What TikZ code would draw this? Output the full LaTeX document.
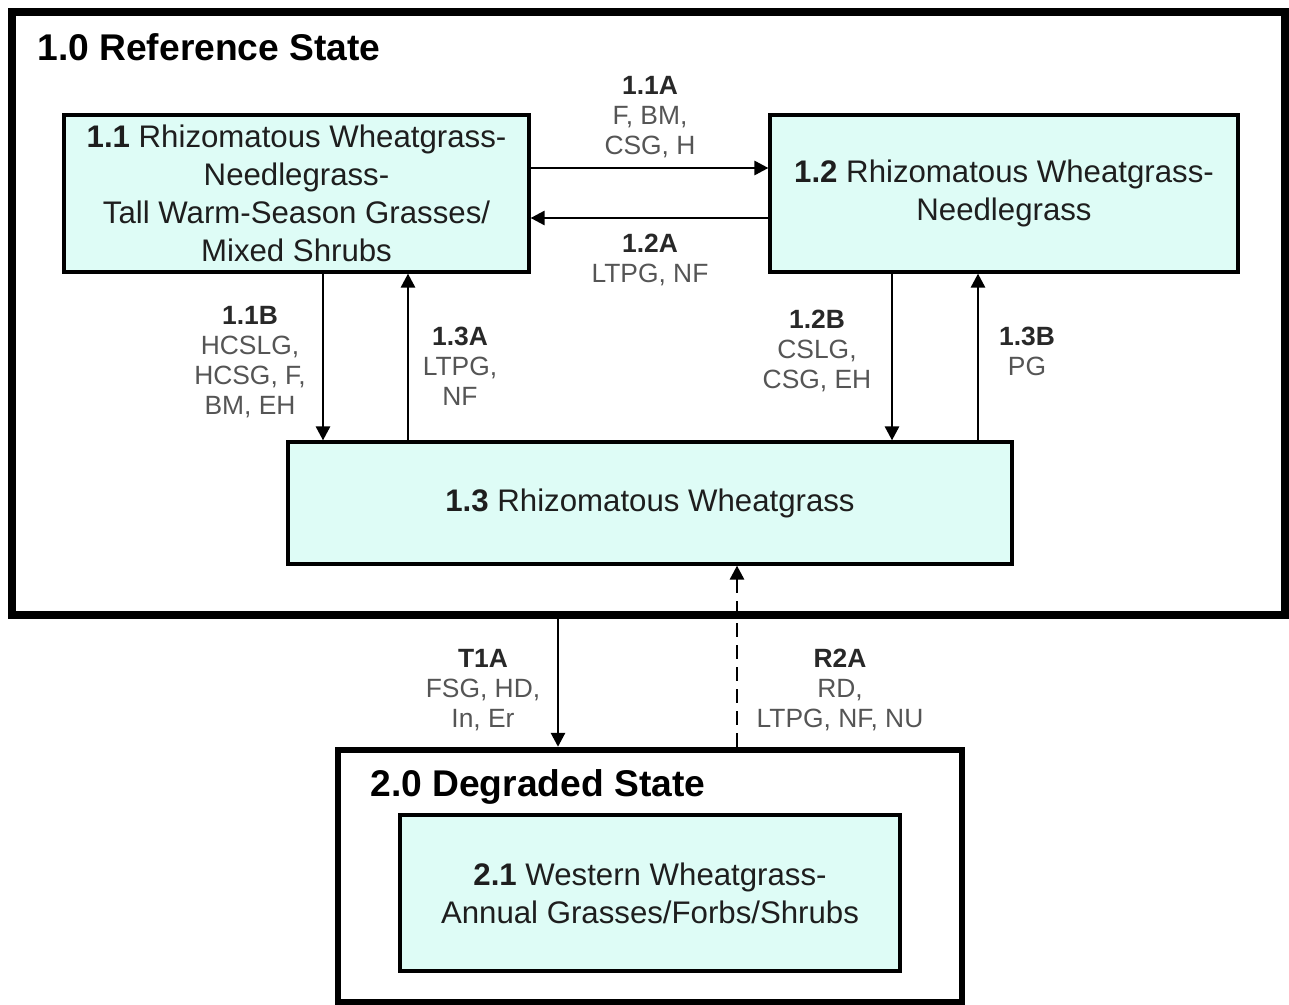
\documentclass[tikz,border=0pt]{standalone}
\usepackage{fontspec}
\setmainfont{Liberation Sans}
\usetikzlibrary{arrows.meta}
\definecolor{boxfill}{RGB}{222,252,246}
\definecolor{boxtext}{RGB}{30,30,30}
\definecolor{labtext}{RGB}{85,85,85}
\definecolor{labbold}{RGB}{40,40,40}
\tikzset{
  statebox/.style={draw=black, line width=4pt, fill=none, inner sep=0pt},
  phasebox/.style={draw=black, line width=1.6pt, fill=boxfill, inner sep=0pt, align=center,
    text=boxtext, font=\fontsize{15.6}{19}\selectfont},
  lab/.style={align=center, text=labtext, inner sep=0pt, font=\fontsize{13.2}{15}\selectfont},
  ttl/.style={anchor=west, inner sep=0pt, text=black, font=\fontsize{18.6}{21}\selectfont\bfseries},
  arr/.style={line width=1.4pt, -{Triangle[length=7pt,width=7pt]}},
}
\newcommand{\lb}[1]{\textcolor{labbold}{\textbf{#1}}}
\begin{document}
\begin{tikzpicture}[x=0.5pt,y=-0.5pt]
\useasboundingbox (0,0) rectangle (1289,1005);
\fill[white] (0,0) rectangle (1289,1005);
% state boxes
\node[statebox, minimum width=636.5pt, minimum height=301.5pt] (ref) at (648.5,313.5) {};
\node[statebox, line width=3.2pt, minimum width=312pt, minimum height=126pt] (deg) at (650,876) {};
\node[ttl] (reft) at (37,47) {1.0 Reference State};
\node[ttl] (degt) at (370,787) {2.0 Degraded State};
% phase boxes
\node[phasebox, minimum width=232.5pt, minimum height=78.5pt] (b11) at (296.5,193.5)
  {\textbf{1.1} Rhizomatous Wheatgrass-\\Needlegrass-\\Tall Warm-Season Grasses/\\Mixed Shrubs};
\node[phasebox, minimum width=234pt, minimum height=78.5pt] (b12) at (1004,193.5)
  {\textbf{1.2} Rhizomatous Wheatgrass-\\Needlegrass};
\node[phasebox, minimum width=362pt, minimum height=61pt] (b13) at (650,503)
  {\textbf{1.3} Rhizomatous Wheatgrass};
\node[phasebox, minimum width=250pt, minimum height=78pt] (b21) at (650,893)
  {\textbf{2.1} Western Wheatgrass-\\Annual Grasses/Forbs/Shrubs};
% arrows
\draw[arr] ([yshift=12.75pt]b11.east) -- ([yshift=12.75pt]b12.west);
\draw[arr] ([yshift=-12.25pt]b12.west) -- ([yshift=-12.25pt]b11.east);
\draw[arr] ([xshift=13.25pt]b11.south) -- ([xshift=13.25pt]b11.south |- b13.north);
\draw[arr] ([xshift=55.75pt]b11.south |- b13.north) -- ([xshift=55.75pt]b11.south);
\draw[arr] ([xshift=-56pt]b12.south) -- ([xshift=-56pt]b12.south |- b13.north);
\draw[arr] ([xshift=-13pt]b12.south |- b13.north) -- ([xshift=-13pt]b12.south);
\draw[arr] ([xshift=-45.25pt]ref.south) -- ([xshift=-45.25pt]ref.south |- deg.north);
\draw[arr, dash pattern=on 7pt off 4pt] ([xshift=43.5pt]deg.north) -- ([xshift=43.5pt]deg.north |- b13.south);
% labels
\node[lab] (l11a) at (650,117) {\lb{1.1A}\\F, BM,\\CSG, H};
\node[lab] (l12a) at (650,260) {\lb{1.2A}\\LTPG, NF};
\node[lab] (l11b) at (250,362) {\lb{1.1B}\\HCSLG,\\HCSG, F,\\BM, EH};
\node[lab] (l13a) at (460,366) {\lb{1.3A}\\LTPG,\\NF};
\node[lab] (l12b) at (817,351) {\lb{1.2B}\\CSLG,\\CSG, EH};
\node[lab] (l13b) at (1027,351) {\lb{1.3B}\\PG};
\node[lab] (lt1a) at (483,690) {\lb{T1A}\\FSG, HD,\\In, Er};
\node[lab] (lr2a) at (840,690) {\lb{R2A}\\RD,\\LTPG, NF, NU};
\end{tikzpicture}
\end{document}
